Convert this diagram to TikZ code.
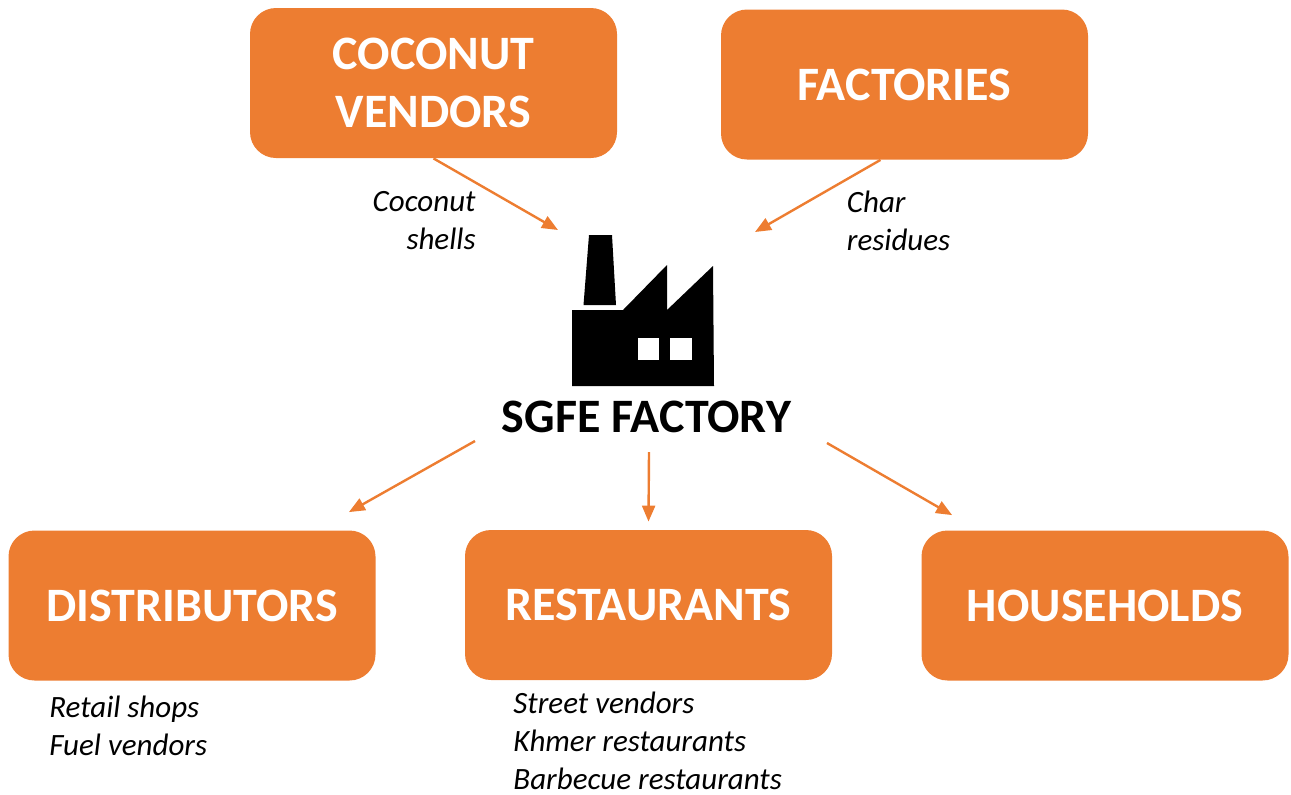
\documentclass[tikz,border=0pt]{standalone}
\usepackage{fontspec}
\setmainfont{Carlito}
\usetikzlibrary{arrows.meta}
\definecolor{sgfeorange}{HTML}{ED7D31}
\tikzset{
  box/.style={fill=sgfeorange, rounded corners=13pt, minimum width=183.5pt, minimum height=75pt,
    text=white, font=\bfseries\fontsize{24}{28.8}\selectfont, align=center, inner sep=0pt},
  flow/.style={draw=sgfeorange, line width=1.2pt, -{Triangle[length=8pt,width=6.5pt]}},
  note/.style={font=\itshape\fontsize{15.5}{19}\selectfont, inner sep=0pt},
}

\begin{document}
\begin{tikzpicture}[x=0.5pt, y=-0.5pt]
			%%%%% START %%%%%
			\useasboundingbox (0,0) rectangle (1291,794);
			
			\node[box] (cv) at (433.5,83) {COCONUT\\VENDORS};
			\node[box] (fact) at (904.5,84.5) {FACTORIES};
			
			\node[box] (dist) at (192,605.5) {DISTRIBUTORS};
			\node[box] (rest) at (648.5,605) {RESTAURANTS};
			\node[box] (house) at (1105,605.5) {HOUSEHOLDS};
			
			% factory icon
			\fill (589,235) -- (612,235) -- (616,305) -- (583.5,305) -- cycle;
			\fill (572,310) -- (623,310) -- (667,265) -- (667,310) -- (713,266) -- (714,386) -- (572,386) -- cycle;
			\fill[white] (638,338) rectangle (659,360);
			\fill[white] (670,338) rectangle (692,360);
			\node[font=\bfseries\fontsize{24}{28.8}\selectfont, anchor=base, inner sep=0pt] (sgfe) at (646.5,432.5) {SGFE FACTORY};
			
			\coordinate (shellsin) at (558,230);
			\coordinate (charin) at (755,232);
			\coordinate (toleft) at (475,441);
			\coordinate (todown) at (649,452);
			\coordinate (toright) at (827,443);
			
			\draw[flow] (cv.south) -- (shellsin);
			\draw[flow] ([xshift=-12pt]fact.south) -- (charin);
			\draw[flow] (toleft) -- ([xshift=-13.5pt,yshift=9pt]dist.north east);
			\draw[flow] (todown) -- ([yshift=4pt]rest.north);
			\draw[flow] (toright) -- ([xshift=15.5pt,yshift=7.5pt]house.north west);
			
			% base = last line
			\node[note, align=right, anchor=base east] (shells) at (476,249) {Coconut\\shells};
			\node[note, align=left, anchor=base west] (char) at (846.5,250) {Char\\residues};
			\node[note, align=left, anchor=base west] (distlist) at (49,755) {Retail shops\\Fuel vendors};
			\node[note, align=left, anchor=base west] (restlist) at (513,789) {Street vendors\\Khmer restaurants\\Barbecue restaurants};
			
			%%%%% END %%%%%
\end{tikzpicture}
\end{document}
